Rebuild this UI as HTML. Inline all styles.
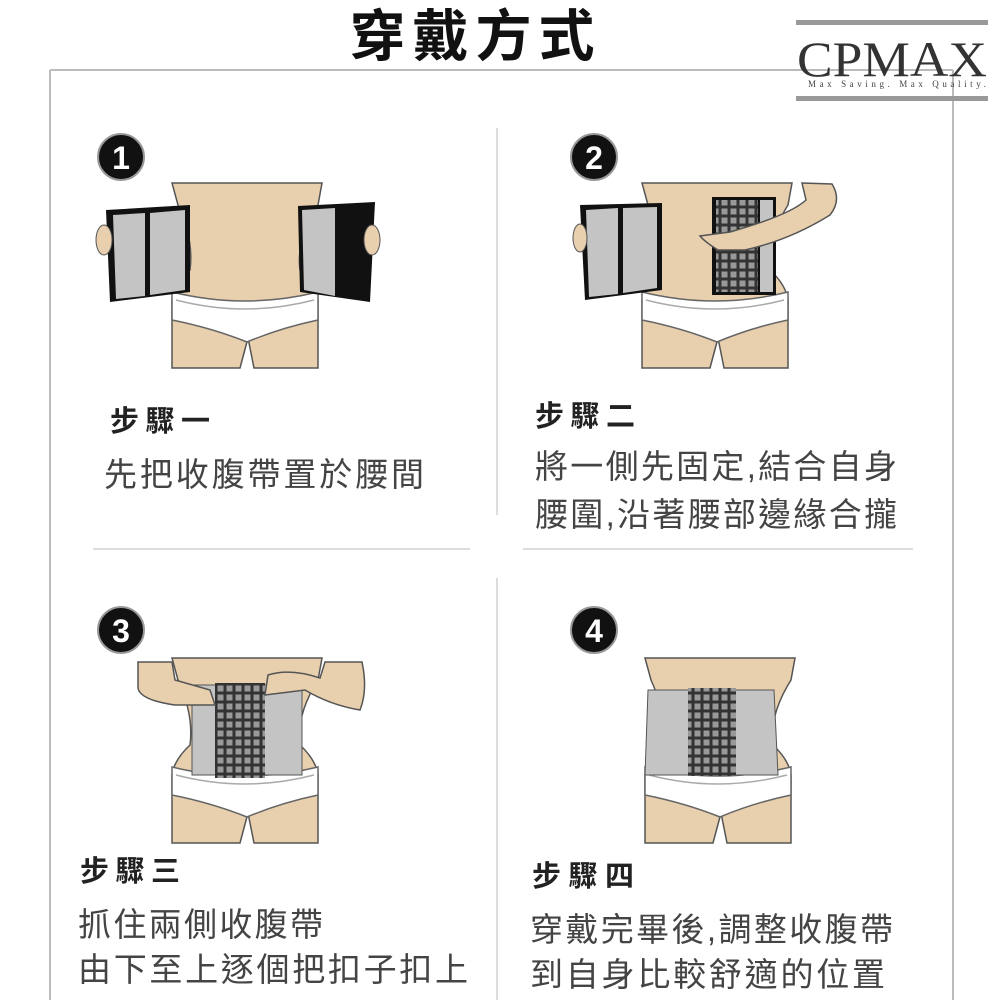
<!DOCTYPE html>
<html><head><meta charset="utf-8"><style>
html,body{margin:0;padding:0;background:#fff;}
svg{display:block;}
text{font-family:"Liberation Sans","Noto Sans CJK TC",sans-serif;}
</style></head><body>
<svg width="1000" height="1000" viewBox="0 0 1000 1000" xmlns="http://www.w3.org/2000/svg">
<defs>
<g id="body">
  <path d="M172,183 L322,183 L318,205 Q296,240 300,270 Q316,285 318,300 L318,368 L254,368 L248,338 L240,368 L172,368 L172,300 Q174,285 190,270 Q194,240 178,205 Z" fill="#e8cfae" stroke="#555" stroke-width="1.5"/>
  <path d="M172,292 Q245,310 318,292 L318,320 Q280,328 247,342 Q212,328 172,320 Z" fill="#fff" stroke="#666" stroke-width="1.5"/>
  <path d="M176,300 Q245,318 314,300" fill="none" stroke="#aaa" stroke-width="1.5"/>
</g>
<pattern id="grid" width="9" height="9" patternUnits="userSpaceOnUse">
  <rect width="9" height="9" fill="#333"/><rect x="1.5" y="1.5" width="6" height="6" fill="#999"/>
</pattern>
</defs>

<!-- frame -->
<line x1="50" y1="70" x2="953" y2="70" stroke="#bbb" stroke-width="2"/>
<line x1="50" y1="70" x2="50" y2="1000" stroke="#bbb" stroke-width="2"/>
<line x1="953" y1="70" x2="953" y2="1000" stroke="#bbb" stroke-width="2"/>
<text x="472" y="56" font-size="56" font-weight="bold" fill="#111" text-anchor="middle" textLength="245">穿戴方式</text>

<!-- logo -->
<rect x="796" y="20" width="192" height="5" fill="#999"/>
<rect x="796" y="96" width="192" height="5" fill="#999"/>
<text x="892" y="76" font-size="50" fill="#333" text-anchor="middle" textLength="190" lengthAdjust="spacingAndGlyphs" style="font-family:'Liberation Serif',serif">CPMAX</text>
<text x="897" y="87" font-size="9" fill="#444" text-anchor="middle" textLength="178" style="font-family:'Liberation Serif',serif">Max Saving. Max Quality.</text>

<!-- dividers -->
<line x1="497" y1="128" x2="497" y2="515" stroke="#ddd" stroke-width="2"/>
<line x1="497" y1="578" x2="497" y2="1000" stroke="#ddd" stroke-width="2"/>
<line x1="93" y1="549" x2="470" y2="549" stroke="#ddd" stroke-width="2"/>
<line x1="523" y1="549" x2="913" y2="549" stroke="#ddd" stroke-width="2"/>

<!-- number circles -->
<g font-size="32" font-weight="bold" fill="#fff" text-anchor="middle">
<circle cx="121" cy="157" r="23" fill="#111" stroke="#999" stroke-width="2"/><text x="121" y="169">1</text>
<circle cx="594" cy="157" r="23" fill="#111" stroke="#999" stroke-width="2"/><text x="594" y="169">2</text>
<circle cx="121" cy="630" r="23" fill="#111" stroke="#999" stroke-width="2"/><text x="121" y="642">3</text>
<circle cx="594" cy="630" r="23" fill="#111" stroke="#999" stroke-width="2"/><text x="594" y="642">4</text>
</g>

<!-- fig1 -->
<use href="#body"/>
<path d="M106,210 L190,205 L190,292 L110,302 Z" fill="#111"/>
<path d="M113,215 L145,213 L145,296 L116,299 Z" fill="#c4c4c4"/>
<path d="M150,213 L185,210 L185,290 L150,295 Z" fill="#c4c4c4"/>
<path d="M298,206 L375,202 L370,302 L300,292 Z" fill="#111"/>
<path d="M302,210 L335,208 L335,296 L304,290 Z" fill="#c4c4c4"/>
<ellipse cx="104" cy="240" rx="8" ry="15" fill="#e8cfae" stroke="#555"/>
<ellipse cx="372" cy="240" rx="8" ry="15" fill="#e8cfae" stroke="#555"/>

<!-- fig2 -->
<use href="#body" transform="translate(470,0)"/>
<path d="M580,205 L662,203 L662,290 L585,300 Z" fill="#111"/>
<path d="M586,210 L618,208 L618,294 L589,297 Z" fill="#c4c4c4"/>
<path d="M623,208 L657,207 L657,288 L623,293 Z" fill="#c4c4c4"/>
<ellipse cx="580" cy="238" rx="7" ry="14" fill="#e8cfae" stroke="#555"/>
<rect x="712" y="197" width="64" height="98" fill="#111"/>
<rect x="716" y="200" width="42" height="92" fill="url(#grid)"/>
<rect x="760" y="200" width="13" height="92" fill="#c4c4c4"/>
<path d="M802,183 L832,184 Q842,200 830,215 Q790,240 745,250 L718,250 Q705,242 700,236 L730,232 Q790,215 806,200 Z" fill="#e8cfae" stroke="#555" stroke-width="1.5"/>

<!-- fig3 -->
<use href="#body" transform="translate(0,475)"/>
<rect x="192" y="685" width="110" height="90" fill="#c4c4c4" stroke="#555"/>
<rect x="215" y="683" width="50" height="95" fill="url(#grid)"/>
<path d="M138,662 L172,662 L175,680 L210,690 L215,705 L175,705 Q140,700 138,688 Z" fill="#e8cfae" stroke="#555" stroke-width="1.5"/>
<path d="M325,662 L362,662 Q368,690 360,710 Q330,705 305,690 L265,695 L268,675 Q290,668 320,678 Z" fill="#e8cfae" stroke="#555" stroke-width="1.5"/>

<!-- fig4 -->
<use href="#body" transform="translate(473,475)"/>
<path d="M648,690 L774,690 L778,775 L645,775 Z" fill="#c4c4c4" stroke="#555"/>
<rect x="688" y="688" width="48" height="88" fill="url(#grid)"/>

<!-- text -->
<g fill="#222">
<text x="110" y="431" font-size="29" font-weight="bold" textLength="100">步驟一</text>
<text x="104" y="486" font-size="33" fill="#444" textLength="320">先把收腹帶置於腰間</text>
<text x="535" y="426" font-size="29" font-weight="bold" textLength="100">步驟二</text>
<text x="535" y="478" font-size="33" fill="#444" textLength="362">將一側先固定,結合自身</text>
<text x="535" y="526" font-size="33" fill="#444" textLength="362">腰圍,沿著腰部邊緣合攏</text>
<text x="80" y="881" font-size="29" font-weight="bold" textLength="100">步驟三</text>
<text x="78" y="936" font-size="33" fill="#444" textLength="245">抓住兩側收腹帶</text>
<text x="78" y="981" font-size="33" fill="#444" textLength="390">由下至上逐個把扣子扣上</text>
<text x="532" y="886" font-size="29" font-weight="bold" textLength="102">步驟四</text>
<text x="530" y="941" font-size="33" fill="#444" textLength="363">穿戴完畢後,調整收腹帶</text>
<text x="530" y="986" font-size="33" fill="#444" textLength="355">到自身比較舒適的位置</text>
</g>
</svg>
</body></html>
